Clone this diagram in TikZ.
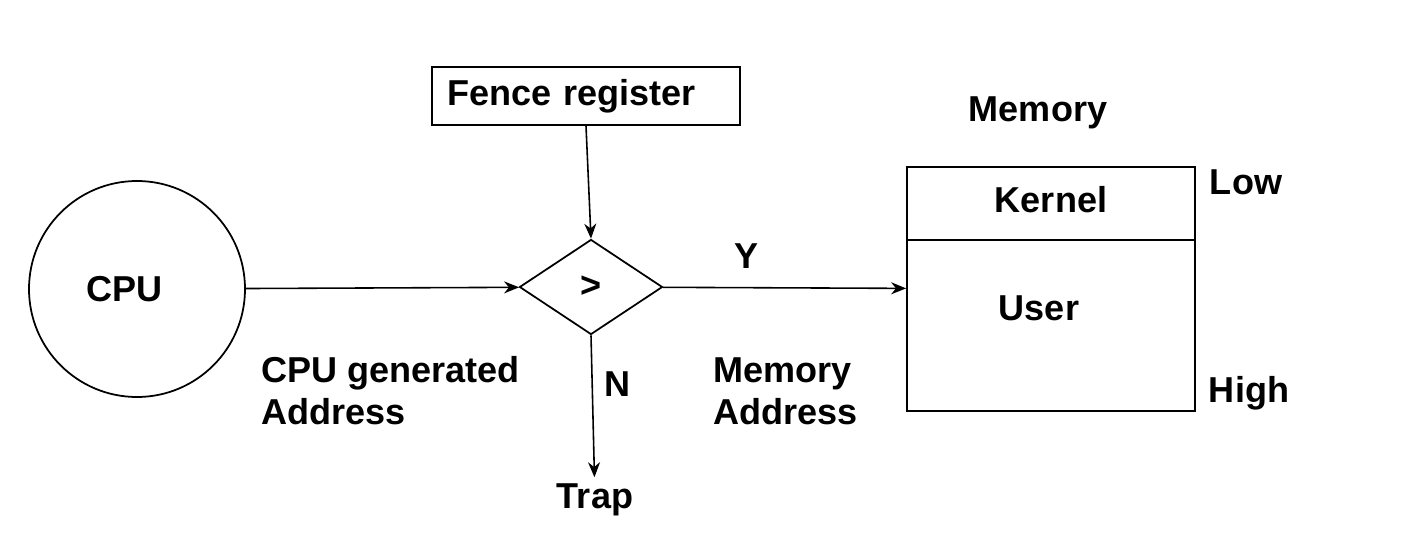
\documentclass[tikz,border=0pt]{standalone}
\usepackage{fontspec}
\setmainfont{Liberation Sans}
\usepackage{tikz}
\usetikzlibrary{arrows.meta, positioning, shapes.geometric}

\begin{document}
\begin{tikzpicture}[
  every node/.style={font=\fontsize{20.5}{24}\selectfont\bfseries, align=center},
  box/.style={draw, line width=1pt, inner sep=0pt},
  ->, >={Stealth[length=3mm, width=2.4mm]}, line width=0.9pt
]
\useasboundingbox (0,0) rectangle (28.34,11.16);

% Left: processor and register
\node (cpu) [box, circle, minimum size=4.32cm] at (2.74,5.38) {\hspace*{-0.5cm}CPU};
\node (fence) [box, minimum height=1.16cm, text width=5.56cm, inner xsep=0.3cm, align=left] at (11.72,9.24) {Fence register\vphantom{p}};

% Comparator
\node (cmp) [box, diamond, minimum width=2.86cm, minimum height=1.9cm] at (11.82,5.42) {>};
\node (trap) at (11.9,1.16) {Trap};

\draw (cpu) -- (cmp);
\draw (fence.south) -- (cmp.north);
\draw (cmp.south) -- (trap);

% Right: memory layout
\node (mem) [box, minimum width=5.76cm, minimum height=4.88cm] at (21.02,5.38) {};
\node (kernel) [box, anchor=north, minimum width=5.76cm, minimum height=1.46cm] at (mem.north) {Kernel\vphantom{p}};
\node (user) at (20.78,5.0) {User};
\node (memlabel) at (20.76,8.9) {Memory};
\node (low) at (24.92,7.52) {Low};
\node (high) at (24.98,3.3) {High};

\draw (cmp) -- (mem);

% Labels on the connectors
\node (yes) at (14.94,6.04) {Y};
\node (no) at (12.36,3.48) {N};
\node (cpuaddr) [anchor=west, align=left] at (5.1,3.34) {CPU generated\\Address};
\node (memaddr) [anchor=west, align=left] at (14.14,3.34) {Memory\\Address};
\end{tikzpicture}
\end{document}
